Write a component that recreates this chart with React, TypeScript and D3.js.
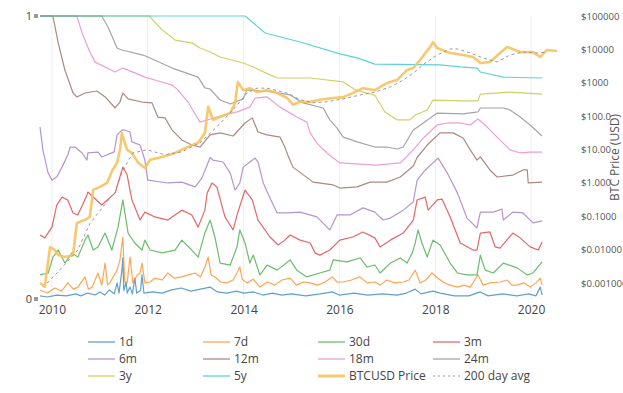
import { useEffect, useRef } from 'react'
import * as d3 from 'd3'

type Pt = [number, number]

const seriesNames = ['1d', '7d', '30d', '3m', '6m', '12m', '18m', '24m', '3y', '5y']
const seriesColors = ['#1f77b4', '#ff7f0e', '#2ca02c', '#d62728', '#9467bd', '#8c564b', '#e377c2', '#7f7f7f', '#bcbd22', '#17becf']

// [decimal year, share of supply]
const d1: Pt[] = [
  [2009.75, 0.011], [2009.9, 0.007], [2010.1, 0.014], [2010.3, 0.011], [2010.5, 0.018], [2010.6, 0.011], [2010.75, 0.021],
  [2010.9, 0.014], [2011.0, 0.025], [2011.1, 0.014], [2011.2, 0.032], [2011.3, 0.018], [2011.36, 0.057], [2011.4, 0.021],
  [2011.46, 0.1], [2011.48, 0.145], [2011.5, 0.03], [2011.55, 0.06], [2011.57, 0.021], [2011.63, 0.042], [2011.68, 0.018],
  [2011.73, 0.074], [2011.77, 0.021], [2011.85, 0.03], [2011.88, 0.085], [2011.92, 0.021], [2012.1, 0.025], [2012.3, 0.021],
  [2012.5, 0.032], [2012.7, 0.039], [2012.9, 0.028], [2013.1, 0.035], [2013.3, 0.042], [2013.45, 0.025], [2013.65, 0.021],
  [2013.85, 0.028], [2014.0, 0.021], [2014.2, 0.025], [2014.4, 0.014], [2014.6, 0.021], [2014.8, 0.014], [2015.0, 0.018],
  [2015.3, 0.011], [2015.6, 0.018], [2015.85, 0.025], [2016.0, 0.014], [2016.3, 0.021], [2016.6, 0.014], [2016.9, 0.018],
  [2017.2, 0.014], [2017.4, 0.021], [2017.58, 0.035], [2017.7, 0.018], [2017.95, 0.028], [2018.1, 0.021], [2018.4, 0.011],
  [2018.7, 0.011], [2018.94, 0.025], [2019.1, 0.011], [2019.4, 0.018], [2019.7, 0.011], [2019.95, 0.018], [2020.1, 0.011],
  [2020.19, 0.042], [2020.23, 0.014],
]
const d7: Pt[] = [
  [2009.75, 0.032], [2009.9, 0.021], [2010.06, 0.039], [2010.2, 0.028], [2010.33, 0.057], [2010.45, 0.035], [2010.54, 0.042],
  [2010.69, 0.078], [2010.76, 0.035], [2010.84, 0.042], [2010.96, 0.092], [2011.04, 0.049], [2011.11, 0.127], [2011.16, 0.05],
  [2011.21, 0.057], [2011.3, 0.085], [2011.36, 0.102], [2011.42, 0.138], [2011.48, 0.219], [2011.52, 0.06], [2011.57, 0.057],
  [2011.63, 0.148], [2011.69, 0.057], [2011.78, 0.085], [2011.84, 0.092], [2011.88, 0.127], [2011.94, 0.057], [2012.05, 0.06],
  [2012.15, 0.074], [2012.3, 0.067], [2012.42, 0.092], [2012.55, 0.074], [2012.71, 0.078], [2012.85, 0.085], [2012.99, 0.092],
  [2013.1, 0.078], [2013.19, 0.113], [2013.26, 0.148], [2013.32, 0.085], [2013.4, 0.078], [2013.52, 0.06], [2013.65, 0.057],
  [2013.78, 0.067], [2013.86, 0.092], [2013.92, 0.113], [2013.97, 0.07], [2014.07, 0.057], [2014.2, 0.07], [2014.34, 0.042],
  [2014.5, 0.06], [2014.65, 0.049], [2014.8, 0.067], [2014.97, 0.074], [2015.1, 0.049], [2015.25, 0.06], [2015.39, 0.057],
  [2015.55, 0.049], [2015.7, 0.06], [2015.85, 0.078], [2015.95, 0.06], [2016.08, 0.06], [2016.25, 0.067], [2016.43, 0.078],
  [2016.58, 0.057], [2016.74, 0.06], [2016.85, 0.049], [2016.99, 0.067], [2017.15, 0.057], [2017.33, 0.06], [2017.45, 0.067],
  [2017.58, 0.102], [2017.68, 0.057], [2017.8, 0.067], [2017.93, 0.092], [2018.05, 0.074], [2018.16, 0.06], [2018.3, 0.049],
  [2018.46, 0.042], [2018.6, 0.049], [2018.73, 0.042], [2018.89, 0.085], [2019.0, 0.049], [2019.15, 0.057], [2019.35, 0.06],
  [2019.5, 0.067], [2019.6, 0.049], [2019.71, 0.049], [2019.85, 0.057], [2019.98, 0.042], [2020.1, 0.057], [2020.19, 0.074],
  [2020.23, 0.049],
]
const d30: Pt[] = [
  [2009.75, 0.085], [2009.92, 0.092], [2010.02, 0.148], [2010.13, 0.173], [2010.27, 0.127], [2010.42, 0.163], [2010.54, 0.148],
  [2010.69, 0.208], [2010.75, 0.226], [2010.86, 0.173], [2010.96, 0.184], [2011.11, 0.233], [2011.25, 0.173], [2011.38, 0.254],
  [2011.48, 0.35], [2011.59, 0.233], [2011.73, 0.198], [2011.88, 0.173], [2011.94, 0.208], [2012.05, 0.173], [2012.3, 0.163],
  [2012.57, 0.173], [2012.71, 0.208], [2012.92, 0.173], [2013.05, 0.148], [2013.19, 0.233], [2013.3, 0.279], [2013.4, 0.219],
  [2013.51, 0.127], [2013.72, 0.12], [2013.86, 0.184], [2013.92, 0.244], [2014.03, 0.198], [2014.13, 0.127], [2014.2, 0.155],
  [2014.34, 0.085], [2014.49, 0.12], [2014.7, 0.102], [2014.97, 0.138], [2015.11, 0.102], [2015.32, 0.078], [2015.59, 0.092],
  [2015.8, 0.102], [2015.87, 0.138], [2016.16, 0.131], [2016.43, 0.145], [2016.58, 0.113], [2016.74, 0.12], [2016.85, 0.092],
  [2017.06, 0.127], [2017.27, 0.145], [2017.41, 0.127], [2017.52, 0.163], [2017.58, 0.198], [2017.64, 0.244], [2017.72, 0.198],
  [2017.83, 0.148], [2017.95, 0.208], [2018.1, 0.191], [2018.31, 0.127], [2018.46, 0.092], [2018.66, 0.085], [2018.87, 0.085],
  [2018.94, 0.155], [2019.04, 0.102], [2019.21, 0.092], [2019.42, 0.127], [2019.71, 0.11], [2019.92, 0.085], [2020.04, 0.092],
  [2020.23, 0.131],
]
const m3: Pt[] = [
  [2009.75, 0.226], [2009.85, 0.216], [2010.0, 0.254], [2010.1, 0.332], [2010.21, 0.36], [2010.33, 0.35], [2010.44, 0.304],
  [2010.54, 0.297], [2010.73, 0.367], [2010.75, 0.378], [2011.04, 0.332], [2011.32, 0.375], [2011.38, 0.41], [2011.48, 0.466],
  [2011.57, 0.438], [2011.67, 0.35], [2011.84, 0.279], [2011.94, 0.307], [2012.15, 0.29], [2012.42, 0.279], [2012.71, 0.314],
  [2012.92, 0.297], [2013.05, 0.254], [2013.19, 0.314], [2013.24, 0.375], [2013.34, 0.41], [2013.44, 0.396], [2013.61, 0.29],
  [2013.78, 0.244], [2013.88, 0.307], [2014.03, 0.385], [2014.18, 0.35], [2014.3, 0.279], [2014.55, 0.219], [2014.72, 0.191],
  [2014.86, 0.208], [2014.97, 0.226], [2015.18, 0.208], [2015.39, 0.198], [2015.49, 0.163], [2015.59, 0.155], [2015.8, 0.173],
  [2016.01, 0.208], [2016.28, 0.219], [2016.49, 0.237], [2016.74, 0.216], [2016.85, 0.184], [2017.06, 0.208], [2017.33, 0.233],
  [2017.54, 0.279], [2017.62, 0.35], [2017.79, 0.36], [2017.85, 0.314], [2018.04, 0.35], [2018.14, 0.353], [2018.31, 0.29],
  [2018.52, 0.198], [2018.79, 0.173], [2018.87, 0.173], [2018.94, 0.233], [2019.14, 0.237], [2019.25, 0.184], [2019.35, 0.18],
  [2019.62, 0.233], [2019.77, 0.216], [2019.98, 0.184], [2020.15, 0.173], [2020.23, 0.201],
]
const m6: Pt[] = [
  [2009.75, 0.608], [2009.81, 0.527], [2009.92, 0.445], [2010.0, 0.42], [2010.1, 0.431], [2010.21, 0.466], [2010.33, 0.509],
  [2010.38, 0.537], [2010.48, 0.537], [2010.63, 0.516], [2010.73, 0.491], [2010.75, 0.516], [2010.96, 0.519], [2011.04, 0.502],
  [2011.3, 0.52], [2011.36, 0.58], [2011.46, 0.597], [2011.52, 0.597], [2011.63, 0.59], [2011.67, 0.555], [2011.84, 0.544],
  [2011.94, 0.491], [2012.0, 0.42], [2012.42, 0.41], [2012.71, 0.413], [2012.99, 0.396], [2013.13, 0.428], [2013.3, 0.5],
  [2013.36, 0.491], [2013.57, 0.484], [2013.72, 0.445], [2013.82, 0.385], [2013.92, 0.41], [2013.99, 0.466], [2014.13, 0.484],
  [2014.24, 0.498], [2014.3, 0.484], [2014.41, 0.41], [2014.55, 0.357], [2014.7, 0.304], [2014.91, 0.304], [2015.18, 0.307],
  [2015.53, 0.29], [2015.74, 0.254], [2015.8, 0.244], [2015.95, 0.297], [2016.22, 0.297], [2016.49, 0.322], [2016.74, 0.307],
  [2016.91, 0.279], [2017.06, 0.286], [2017.33, 0.314], [2017.54, 0.343], [2017.62, 0.42], [2017.79, 0.456], [2017.95, 0.481],
  [2018.06, 0.498], [2018.25, 0.445], [2018.46, 0.375], [2018.66, 0.286], [2018.87, 0.251], [2018.94, 0.307], [2019.21, 0.307],
  [2019.39, 0.318], [2019.42, 0.279], [2019.62, 0.307], [2019.83, 0.304], [2020.04, 0.269], [2020.23, 0.276],
]
const m12: Pt[] = [
  [2009.75, 1], [2010.02, 1], [2010.13, 0.905], [2010.27, 0.809], [2010.44, 0.728], [2010.52, 0.714], [2010.69, 0.728],
  [2010.94, 0.735], [2011.11, 0.714], [2011.32, 0.675], [2011.42, 0.696], [2011.48, 0.728], [2011.59, 0.707], [2011.88, 0.696],
  [2012.09, 0.693], [2012.21, 0.643], [2012.36, 0.64], [2012.51, 0.597], [2012.71, 0.562], [2012.92, 0.544], [2013.09, 0.537],
  [2013.3, 0.58], [2013.51, 0.587], [2013.78, 0.576], [2014.03, 0.622], [2014.18, 0.64], [2014.3, 0.59], [2014.49, 0.58],
  [2014.76, 0.572], [2014.86, 0.537], [2014.93, 0.505], [2015.03, 0.466], [2015.45, 0.413], [2015.87, 0.403], [2016.01, 0.392],
  [2016.37, 0.396], [2016.64, 0.413], [2016.99, 0.413], [2017.27, 0.431], [2017.54, 0.47], [2017.62, 0.5], [2017.83, 0.544],
  [2018.1, 0.587], [2018.37, 0.587], [2018.58, 0.569], [2018.73, 0.527], [2018.87, 0.491], [2018.94, 0.502], [2019.14, 0.456],
  [2019.29, 0.431], [2019.62, 0.438], [2019.83, 0.456], [2019.92, 0.456], [2019.94, 0.41], [2020.23, 0.413],
]
const m18: Pt[] = [
  [2009.75, 1], [2010.52, 1], [2010.63, 0.94], [2010.79, 0.873], [2010.9, 0.837], [2011.32, 0.802], [2011.48, 0.816],
  [2011.73, 0.799], [2011.94, 0.784], [2012.15, 0.774], [2012.51, 0.756], [2012.63, 0.739], [2012.84, 0.696], [2013.09, 0.625],
  [2013.44, 0.643], [2013.86, 0.661], [2014.13, 0.678], [2014.24, 0.71], [2014.49, 0.714], [2014.76, 0.678], [2015.11, 0.643],
  [2015.32, 0.625], [2015.39, 0.587], [2015.53, 0.551], [2015.74, 0.516], [2015.87, 0.498], [2016.01, 0.481], [2016.78, 0.473],
  [2017.27, 0.481], [2017.33, 0.491], [2017.54, 0.527], [2017.75, 0.569], [2018.04, 0.615], [2018.25, 0.622], [2018.52, 0.622],
  [2018.73, 0.615], [2018.89, 0.636], [2019.04, 0.615], [2019.29, 0.572], [2019.56, 0.527], [2019.77, 0.516], [2019.98, 0.519],
  [2020.23, 0.519],
]
const m24: Pt[] = [
  [2009.75, 1], [2011.04, 1], [2011.17, 0.961], [2011.36, 0.887], [2011.46, 0.88], [2011.9, 0.862], [2012.0, 0.855],
  [2012.51, 0.816], [2013.05, 0.784], [2013.19, 0.746], [2013.3, 0.742], [2013.51, 0.703], [2013.72, 0.689], [2013.99, 0.707],
  [2014.07, 0.739], [2014.45, 0.735], [2014.61, 0.731], [2014.97, 0.721], [2015.24, 0.693], [2015.66, 0.675], [2015.8, 0.633],
  [2015.95, 0.604], [2016.08, 0.572], [2016.37, 0.555], [2016.74, 0.537], [2016.99, 0.537], [2017.2, 0.53], [2017.33, 0.537],
  [2017.54, 0.597], [2017.75, 0.622], [2018.04, 0.657], [2018.58, 0.654], [2018.89, 0.661], [2018.94, 0.675], [2019.42, 0.675],
  [2019.56, 0.668], [2019.77, 0.643], [2019.98, 0.615], [2020.23, 0.576],
]
const y3: Pt[] = [
  [2009.75, 1], [2012.03, 1], [2012.3, 0.951], [2012.57, 0.915], [2012.92, 0.905], [2013.09, 0.887], [2013.3, 0.873],
  [2013.51, 0.855], [2013.99, 0.834], [2014.2, 0.82], [2014.55, 0.792], [2014.7, 0.781], [2015.39, 0.781], [2016.08, 0.767],
  [2016.33, 0.739], [2016.74, 0.72], [2016.95, 0.661], [2017.2, 0.633], [2017.47, 0.633], [2017.58, 0.65], [2017.83, 0.668],
  [2017.95, 0.703], [2018.58, 0.7], [2018.89, 0.7], [2018.94, 0.724], [2019.56, 0.731], [2020.23, 0.724],
]
const y5: Pt[] = [
  [2009.75, 1], [2014.03, 1], [2014.45, 0.94], [2015.18, 0.908], [2016.01, 0.866], [2016.37, 0.852], [2016.74, 0.83],
  [2018.1, 0.827], [2018.52, 0.82], [2018.87, 0.816], [2018.94, 0.802], [2019.42, 0.784], [2020.23, 0.781],
]

// [decimal year, USD]
const price: Pt[] = [
  [2009.75, 0.001], [2009.85, 0.00077], [2009.96, 0.012], [2010.06, 0.0098], [2010.13, 0.0069], [2010.27, 0.006],
  [2010.44, 0.0069], [2010.52, 0.063], [2010.69, 0.078], [2010.79, 0.096], [2010.86, 0.62], [2011.0, 0.76], [2011.15, 1.0],
  [2011.27, 2.5], [2011.36, 4.0], [2011.42, 9.8], [2011.46, 31], [2011.52, 16], [2011.57, 9.8], [2011.67, 7.9], [2011.8, 4.0],
  [2011.94, 2.8], [2012.05, 4.9], [2012.3, 6.0], [2012.57, 7.9], [2012.71, 9.8], [2012.84, 12], [2013.05, 16], [2013.19, 31],
  [2013.26, 190], [2013.36, 78], [2013.51, 96], [2013.72, 125], [2013.82, 250], [2013.88, 1050], [2013.99, 600], [2014.13, 690],
  [2014.28, 525], [2014.49, 600], [2014.7, 490], [2014.91, 350], [2015.03, 220], [2015.18, 270], [2015.39, 270], [2015.59, 310],
  [2015.87, 350], [2016.08, 370], [2016.28, 490], [2016.49, 690], [2016.74, 600], [2016.99, 980], [2017.2, 1200],
  [2017.41, 2400], [2017.54, 2760], [2017.68, 4800], [2017.79, 7800], [2017.89, 11700], [2017.95, 16600], [2018.04, 11000],
  [2018.14, 9600], [2018.31, 7800], [2018.58, 6800], [2018.79, 5900], [2018.94, 3900], [2019.14, 4200], [2019.35, 7800],
  [2019.5, 11700], [2019.56, 11000], [2019.77, 8300], [2020.04, 8300], [2020.19, 5900], [2020.33, 9600], [2020.54, 8900],
]
const avg200: Pt[] = [
  [2009.9, 0.001], [2010.17, 0.0025], [2010.54, 0.0098], [2010.79, 0.06], [2011.21, 0.35], [2011.32, 0.52], [2011.46, 2.0],
  [2011.57, 4.0], [2011.69, 7.9], [2011.98, 9.8], [2012.36, 7.0], [2012.71, 8.5], [2013.09, 16], [2013.44, 48], [2013.78, 155],
  [2014.07, 490], [2014.28, 690], [2014.49, 690], [2014.91, 490], [2015.18, 310], [2015.45, 250], [2015.74, 270],
  [2016.08, 330], [2016.43, 430], [2016.74, 525], [2017.06, 750], [2017.33, 1200], [2017.54, 1950], [2017.79, 3900],
  [2018.04, 6800], [2018.31, 10300], [2018.46, 10300], [2018.73, 7800], [2019.0, 5500], [2019.29, 4200], [2019.56, 6800],
  [2019.83, 8300], [2020.13, 7800], [2020.33, 8300],
]

const shares = [d1, d7, d30, m3, m6, m12, m18, m24, y3, y5]
const yearTicks = [2010, 2012, 2014, 2016, 2018, 2020]
const shareTicks = [0, 1]
const priceTicks = [1e5, 1e4, 1e3, 100, 10, 1, 0.1, 0.01, 0.001]

const toDate = (y: number) => {
  const whole = Math.floor(y)
  return new Date(Date.UTC(whole, 0, 1) + (y - whole) * 365.25 * 864e5)
}

export default function App() {
  const ref = useRef<SVGSVGElement>(null)

  useEffect(() => {
    if (!ref.current) return
    const el = ref.current
    d3.select(el).selectAll('*').remove()
    const svg = d3.select(el)

    const left = 40, right = 556, top = 16, bottom = 299
    const font = '"Open Sans", Arial, sans-serif'

    const x = d3.scaleTime().domain([toDate(2009.75), toDate(2020.52)]).range([left, right])
    const yL = d3.scaleLinear().domain([0, 1]).range([bottom, top])
    const yR = d3.scaleLog().domain([3.32e-4, 1e5]).range([bottom, top])

    // vertical grid
    svg.append('g')
      .selectAll('line')
      .data(yearTicks)
      .join('line')
      .attr('x1', d => x(toDate(d))).attr('x2', d => x(toDate(d)))
      .attr('y1', top).attr('y2', bottom)
      .attr('stroke', '#eeeeee')

    // x axis
    svg.append('g')
      .attr('transform', `translate(0,${bottom})`)
      .call(d3.axisBottom(x).tickValues(yearTicks.map(toDate)).tickFormat(d3.timeFormat('%Y') as any).tickSize(0).tickPadding(6))
      .call(g => {
        g.select('.domain').remove()
        g.selectAll('text').attr('fill', '#444').attr('font-size', '12px').attr('font-family', font)
      })

    // left axis
    const gl = svg.append('g')
      .attr('transform', `translate(${left},0)`)
      .call(d3.axisLeft(yL).tickValues(shareTicks).tickFormat(d3.format('d')).tickSize(0).tickPadding(8))
      .call(g => {
        g.select('.domain').remove()
        g.selectAll('text').attr('fill', '#444').attr('font-size', '11px').attr('font-family', font)
      })
    gl.selectAll('rect.mk')
      .data(shareTicks)
      .join('rect')
      .attr('class', 'mk')
      .attr('x', -6).attr('y', d => yL(d) - 2)
      .attr('width', 4).attr('height', 4)
      .attr('fill', '#999')

    // right axis
    svg.append('g')
      .attr('transform', 'translate(581,0)')
      .call(d3.axisRight(yR).tickValues(priceTicks).tickFormat(d3.format('$.4r')).tickSize(0).tickPadding(0))
      .call(g => {
        g.select('.domain').remove()
        g.selectAll('text').attr('fill', '#555').attr('font-size', '9.6px').attr('font-family', font)
      })

    svg.append('text')
      .attr('transform', `translate(619,${(top + bottom) / 2}) rotate(-90)`)
      .attr('text-anchor', 'middle')
      .attr('fill', '#555')
      .attr('font-size', '12px')
      .attr('font-family', font)
      .text('BTC Price (USD)')

    const shareLine = d3.line<Pt>().x(d => x(toDate(d[0]))).y(d => yL(d[1]))
    const priceLine = d3.line<Pt>().x(d => x(toDate(d[0]))).y(d => yR(d[1]))

    svg.append('g')
      .selectAll('path')
      .data(shares)
      .join('path')
      .attr('d', d => shareLine(d))
      .attr('fill', 'none')
      .attr('stroke', (_, i) => seriesColors[i])
      .attr('stroke-opacity', 0.7)
      .attr('stroke-width', 1.2)
      .attr('stroke-linejoin', 'round')

    svg.append('path')
      .attr('d', priceLine(price))
      .attr('fill', 'none')
      .attr('stroke', '#f8c25e')
      .attr('stroke-width', 2.6)
      .attr('stroke-opacity', 0.9)
      .attr('stroke-linejoin', 'round')

    svg.append('path')
      .attr('d', priceLine(avg200))
      .attr('fill', 'none')
      .attr('stroke', '#999')
      .attr('stroke-width', 1)
      .attr('stroke-dasharray', '3,3')

    // legend
    const legendItems = [
      ...seriesNames.map((n, i) => ({ name: n, color: seriesColors[i], width: 2, dash: '', op: 0.45 })),
      { name: 'BTCUSD Price', color: '#f8c25e', width: 3, dash: '', op: 0.9 },
      { name: '200 day avg', color: '#bbb', width: 1.5, dash: '2,3', op: 1 },
    ]
    const colX = [88, 203, 318, 433]
    const lg = svg.append('g').selectAll('g')
      .data(legendItems)
      .join('g')
      .attr('transform', (_, i) => `translate(${colX[i % 4]},${342 + Math.floor(i / 4) * 17})`)
    lg.append('line')
      .attr('x1', 0).attr('x2', 27)
      .attr('stroke', d => d.color)
      .attr('stroke-width', d => d.width)
      .attr('stroke-opacity', d => d.op)
      .attr('stroke-dasharray', d => d.dash)
    lg.append('text')
      .attr('x', 31).attr('dy', '0.35em')
      .attr('fill', '#444')
      .attr('font-size', '12px')
      .attr('font-family', font)
      .text(d => d.name)
  }, [])

  return <svg ref={ref} width={623} height={393} style={{ position: 'absolute', left: 0, top: 0, background: '#fff' }} />
}
